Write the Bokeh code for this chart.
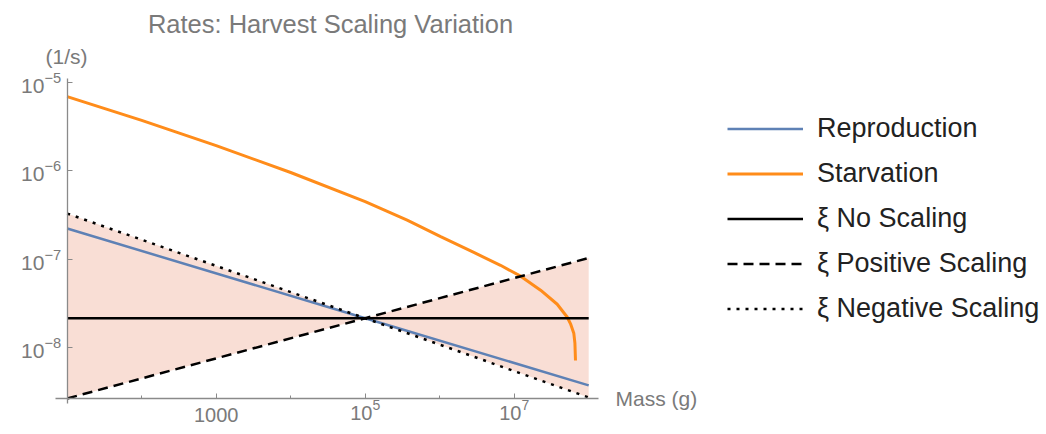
from bokeh.plotting import figure
from bokeh.models import (FixedTicker, CustomJSTickFormatter, LogTickFormatter, LogAxis,
                          Label, Legend, LegendItem, Range1d)
from bokeh.embed import file_html
from bokeh.resources import INLINE

# ---- data ----
mass = [1e1, 1e5, 1e8]
reproduction = [2.22e-7, 2.14e-8, 3.71e-9]
xi_no_scaling = [2.14e-8, 2.14e-8, 2.14e-8]
xi_positive = [2.64e-9, 2.14e-8, 1.03e-7]
xi_negative = [3.28e-7, 2.14e-8, 2.71e-9]

starv_mass = [1e1, 1e2, 1e3, 1e4, 1e5, 3.66e5, 1.03e6, 2.87e6, 6.55e6, 1.22e7,
              2.26e7, 3.78e7, 4.47e7, 5.14e7, 5.75e7, 6.31e7, 6.53e7, 6.65e7]
starv_rate = [6.93e-6, 3.72e-6, 1.93e-6, 9.57e-7, 4.48e-7, 2.77e-7, 1.80e-7, 1.19e-7,
              8.51e-8, 6.41e-8, 4.45e-8, 3.08e-8, 2.57e-8, 2.21e-8, 1.82e-8, 1.45e-8,
              1.12e-8, 7.11e-9]

x_plain_ticks = [1e3]          # written out as 1000
x_power_ticks = [1e5, 1e7]     # written as powers of ten
x_minor = [1e2, 1e4, 1e6]
y_major = [1e-8, 1e-7, 1e-6, 1e-5]

FONT = "Liberation Sans"
TXT = "#7a7a7a"
AX = "#8a8a8a"

W, H = 1040, 432
X_AXIS_AT = 2.64e-9
Y_AXIS_AT = 10

p = figure(x_axis_type="log", y_axis_type="log",
           x_range=Range1d(1.273, 1.16e14), y_range=Range1d(1.087e-9, 8.49e-5),
           width=W, height=H,
           min_border_left=0, min_border_right=0, min_border_top=0, min_border_bottom=0,
           output_backend="svg", toolbar_location=None)

p.outline_line_color = None
p.xgrid.visible = False
p.ygrid.visible = False
p.background_fill_color = "white"
p.border_fill_color = "white"


def style(a):
    a.axis_line_color = AX
    a.axis_line_width = 1.3
    a.major_tick_line_color = AX
    a.minor_tick_line_color = AX
    a.major_tick_in = 5
    a.major_tick_out = 0
    a.minor_tick_in = 3
    a.minor_tick_out = 0
    a.major_label_text_font = FONT
    a.major_label_text_font_size = "20px"
    a.major_label_text_color = TXT


# axes drawn Mathematica-style, crossing near the origin of the data
xa = p.xaxis[0]
style(xa)
xa.ticker = FixedTicker(ticks=x_plain_ticks, minor_ticks=x_minor)
xa.formatter = CustomJSTickFormatter(code="return String(Math.round(tick));")
xa.fixed_location = X_AXIS_AT
xa.bounds = (6.97, 1.355e8)
xa.major_label_standoff = 10

xa2 = LogAxis(ticker=FixedTicker(ticks=x_power_ticks, minor_ticks=[]),
              formatter=LogTickFormatter(), fixed_location=X_AXIS_AT,
              bounds=(6.97, 1.355e8))
style(xa2)
xa2.axis_line_color = None
xa2.major_label_standoff = 1
p.add_layout(xa2, "below")

ya = p.yaxis[0]
style(ya)
ya.ticker = FixedTicker(ticks=y_major, minor_ticks=[])
ya.formatter = LogTickFormatter()
ya.fixed_location = Y_AXIS_AT
ya.bounds = (2.31e-9, 1.11e-5)
ya.major_label_standoff = 6
ya.major_label_text_font_size = "21px"

# shaded band between the xi scalings
p.varea(x=mass, y1=xi_positive, y2=xi_negative, fill_color="#F9DED5", fill_alpha=1.0)

r_rep = p.line(mass, reproduction, line_color="#5E81B5", line_width=2.5)
r_sta = p.line(starv_mass, starv_rate, line_color="#FF8C1A", line_width=3)
r_no = p.line(mass, xi_no_scaling, line_color="black", line_width=2.5)
r_pos = p.line(mass, xi_positive, line_color="black", line_width=2.5, line_dash="10 6")
r_neg = p.line(mass, xi_negative, line_color="black", line_width=2.5, line_dash="3 6")

# texts
p.add_layout(Label(x=330, y=H - 23, x_units="screen", y_units="screen",
                   text="Rates: Harvest Scaling Variation",
                   text_align="center", text_baseline="middle", text_font=FONT,
                   text_font_size="25.5px", text_color=TXT))
p.add_layout(Label(x=66, y=H - 56, x_units="screen", y_units="screen", text="(1/s)",
                   text_align="center", text_baseline="middle", text_font=FONT,
                   text_font_size="21px", text_color=TXT))
p.add_layout(Label(x=615, y=H - 398, x_units="screen", y_units="screen", text="Mass (g)",
                   text_align="left", text_baseline="middle", text_font=FONT,
                   text_font_size="21px", text_color=TXT))

legend = Legend(items=[
    LegendItem(label="Reproduction", renderers=[r_rep]),
    LegendItem(label="Starvation", renderers=[r_sta]),
    LegendItem(label="ξ No Scaling", renderers=[r_no]),
    LegendItem(label="ξ Positive Scaling", renderers=[r_pos]),
    LegendItem(label="ξ Negative Scaling", renderers=[r_neg]),
], location=(727, H - 324), orientation="vertical")
legend.border_line_color = None
legend.background_fill_alpha = 0
legend.padding = 0
legend.margin = 0
legend.glyph_width = 76
legend.glyph_height = 31
legend.label_height = 31
legend.spacing = 14
legend.label_standoff = 14
legend.label_text_font = FONT
legend.label_text_font_size = "27px"
legend.label_text_color = "#222222"
p.add_layout(legend)

open("out.html", "w").write(file_html(p, INLINE))
